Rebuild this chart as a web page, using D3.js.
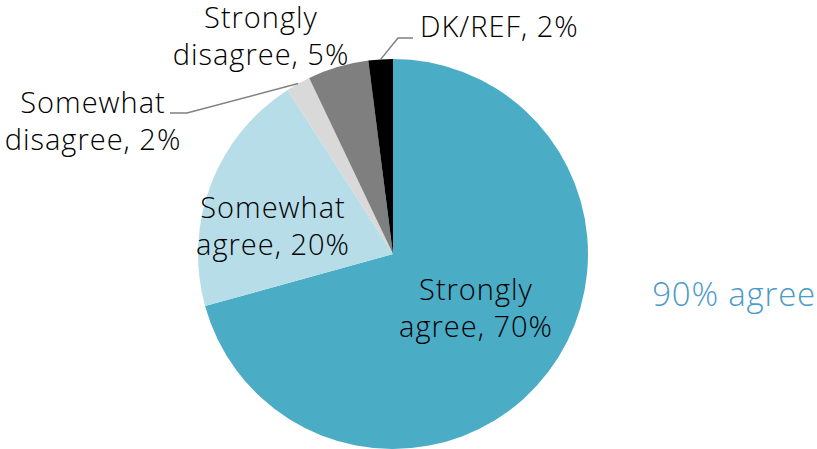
<!DOCTYPE html>
<html>
<head>
<meta charset="utf-8">
<script src="https://cdn.jsdelivr.net/npm/d3@7"></script>
<style>
  html, body { margin: 0; padding: 0; background: #fff; }
  svg { display: block; }
  text { font-family: "Open Sans", Lato, sans-serif; font-weight: 300; }
</style>
</head>
<body>
<svg id="chart" width="817" height="449"></svg>
<script>
// Survey responses, in clockwise order from 12 o'clock
const categories = ["Strongly agree", "Somewhat agree", "Somewhat disagree", "Strongly disagree", "DK/REF"];
const values = [70, 20, 2, 5, 2];
const labelLines = [
  ["Strongly", "agree, 70%"],
  ["Somewhat", "agree, 20%"],
  ["Somewhat", "disagree, 2%"],
  ["Strongly", "disagree, 5%"],
  ["DK/REF, 2%"]
];
const colors = ["#4BACC6", "#B7DDE8", "#D9D9D9", "#7F7F7F", "#000000"];
const summaryText = "90% agree";

const svg = d3.select("#chart");
const cx = 393, cy = 254, radius = 195;

const pie = d3.pie().sort(null).value(d => d.value);
const arc = d3.arc().innerRadius(0).outerRadius(radius);
const data = categories.map((c, i) => ({ name: c, value: values[i], color: colors[i], lines: labelLines[i] }));
const arcs = pie(data);

const g = svg.append("g").attr("transform", `translate(${cx},${cy})`);
g.selectAll("path")
  .data(arcs)
  .join("path")
  .attr("d", arc)
  .attr("fill", d => d.data.color);

// Label placement (absolute page coordinates of the first baseline, centre x)
const labelLayout = [
  { x: 476, y: 300 },
  { x: 273, y: 218 },
  { x: 93, y: 113 },
  { x: 261, y: 28 },
  { x: 420, y: 37, anchor: "start" }
];
const lineHeight = 36.5;

arcs.forEach((a, i) => {
  const lay = labelLayout[i];
  const t = svg.append("text")
    .attr("x", lay.x)
    .attr("y", lay.y)
    .attr("text-anchor", lay.anchor || "middle")
    .attr("font-size", 29)
    .attr("letter-spacing", 1)
    .attr("fill", "#000");
  a.data.lines.forEach((ln, j) => {
    t.append("tspan").attr("x", lay.x).attr("dy", j === 0 ? 0 : lineHeight).text(ln);
  });
});

// Leader lines from small slices to their labels
function edgePoint(a) {
  const mid = (a.startAngle + a.endAngle) / 2;
  return [cx + radius * Math.sin(mid), cy - radius * Math.cos(mid)];
}
const leader = d3.line();
const sd = edgePoint(arcs[2]);
svg.append("path")
  .attr("d", leader([[170, 113], [187, 113], [sd[0], sd[1]]]))
  .attr("fill", "none").attr("stroke", "#808080").attr("stroke-width", 1.5);
const dk = edgePoint(arcs[4]);
svg.append("path")
  .attr("d", leader([[dk[0], dk[1]], [398, 38], [413, 38]]))
  .attr("fill", "none").attr("stroke", "#808080").attr("stroke-width", 1.5);

svg.append("text")
  .attr("x", 816).attr("y", 306)
  .attr("text-anchor", "end")
  .attr("font-size", 33)
  .attr("letter-spacing", 0.8)
  .attr("fill", "#4A9BC9")
  .text(summaryText);
</script>
</body>
</html>
